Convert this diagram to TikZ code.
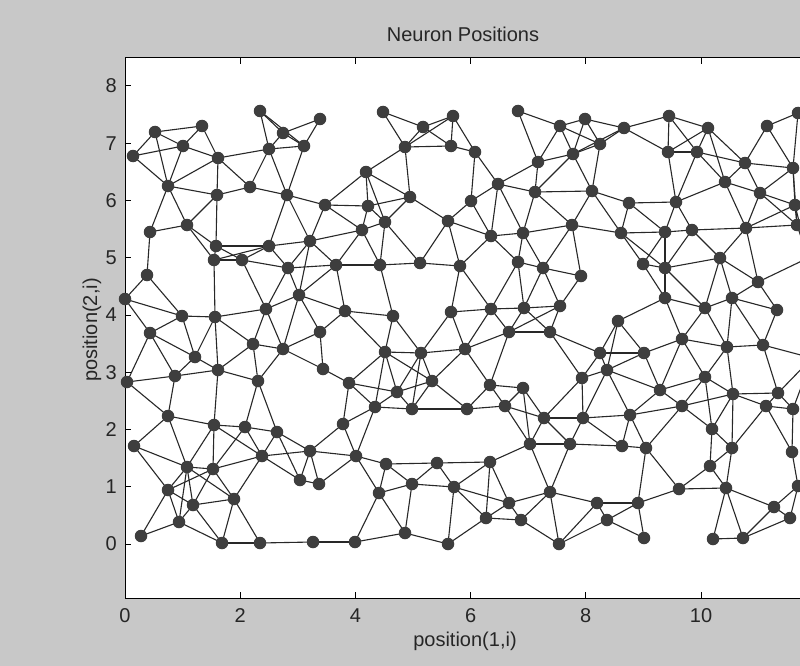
\documentclass[tikz,border=0pt]{standalone}
\usepackage{fontspec}
\setmainfont{Liberation Sans}
\definecolor{figbg}{RGB}{200,200,200}
\definecolor{dotc}{RGB}{62,62,62}
\definecolor{linec}{RGB}{40,40,40}
\pgfdeclarelayer{bg}
\pgfdeclarelayer{edges}
\pgfsetlayers{bg,edges,main}
\newcount\nn
\newcommand\neuron[2]{\global\advance\nn by 1
  \expandafter\xdef\csname nnx\the\nn\endcsname{#1}%
  \expandafter\xdef\csname nny\the\nn\endcsname{#2}%
  \node[neuron] (n\the\nn) at (#1,#2) {};}
\newcommand\linkpair[2]{\draw[link] (n#1.center) -- (n#2.center);}
\ExplSyntaxOn
\cs_new_protected:Npn \linkall #1
 {
  \int_step_inline:nnn {1} {\nn - 1}
   {
    \int_step_inline:nnn {##1 + 1} {\nn}
     {
      \int_compare:nNnT
       {
        (\use:c{nnx##1} - \use:c{nnx####1}) * (\use:c{nnx##1} - \use:c{nnx####1})
        + (\use:c{nny##1} - \use:c{nny####1}) * (\use:c{nny##1} - \use:c{nny####1})
       } < {#1}
       { \linkpair{##1}{####1} }
     }
   }
 }
\ExplSyntaxOff
\tikzset{
  neuron/.style={circle, fill=dotc, draw=none, inner sep=0pt, minimum size=12.5pt},
  link/.style={draw=linec, line width=1.1pt},
  lab/.style={font=\fontsize{20pt}{23pt}\selectfont, text=black!85, inner sep=0pt},
  axline/.style={draw=black, line width=1pt}
}
\begin{document}
\begin{tikzpicture}[x=1pt,y=-1pt]
\useasboundingbox (0,0) rectangle (800,666);
\begin{pgfonlayer}{bg}
\fill[figbg] (0,0) rectangle (800,666);
\fill[white] (125,58) rectangle (801,598);
\end{pgfonlayer}
\draw[axline] (801,58) -- (125,58) -- (125,598) -- (801,598);
% ticks
\foreach \k in {0,...,8} {
  \draw[axline] (125,{544-57.25*\k}) -- ++(6,0);
  \node[lab, anchor=east] (yt\k) at (117,{544-57.25*\k}) {\k};
}
\foreach \k in {0,2,...,10} {
  \draw[axline] ({125+57.6*\k},598) -- ++(0,-6);
  \draw[axline] ({125+57.6*\k},58) -- ++(0,6);
  \node[lab] (xt\k) at ({125+57.6*\k},616) {\k};
}
\node[lab] (title) at (463,34) {Neuron Positions};
\node[lab] (xlab) at (465,641) {position(1,i)};
\node[lab, rotate=90] (ylab) at (92,330) {position(2,i)};
\begin{scope}
\clip (0,0) rectangle (800,666);
% neurons
\neuron{133}{156}\neuron{155}{132}\neuron{202}{126}\neuron{183}{146}\neuron{218}{158}
\neuron{168}{186}\neuron{217}{195}\neuron{250}{187}\neuron{260}{111}\neuron{283}{133}
\neuron{269}{149}\neuron{287}{195}\neuron{150}{232}\neuron{187}{225}\neuron{216}{246}
\neuron{214}{260}\neuron{242}{260}\neuron{269}{246}\neuron{288}{268}\neuron{147}{275}
\neuron{125}{299}\neuron{182}{316}\neuron{215}{317}\neuron{266}{309}\neuron{150}{333}
\neuron{320}{119}\neuron{304}{146}\neuron{383}{112}\neuron{423}{127}\neuron{453}{116}
\neuron{405}{147}\neuron{451}{146}\neuron{366}{172}\neuron{325}{205}\neuron{368}{206}
\neuron{410}{197}\neuron{385}{222}\neuron{362}{230}\neuron{448}{221}\neuron{310}{241}
\neuron{336}{265}\neuron{380}{265}\neuron{420}{263}\neuron{460}{266}\neuron{299}{295}
\neuron{345}{311}\neuron{393}{316}\neuron{451}{312}\neuron{320}{332}\neuron{475}{152}
\neuron{518}{111}\neuron{560}{126}\neuron{585}{119}\neuron{624}{128}\neuron{600}{144}
\neuron{573}{154}\neuron{538}{162}\neuron{498}{184}\neuron{535}{192}\neuron{592}{191}
\neuron{629}{203}\neuron{471}{201}\neuron{491}{236}\neuron{523}{233}\neuron{572}{225}
\neuron{621}{233}\neuron{518}{262}\neuron{543}{268}\neuron{581}{276}\neuron{491}{309}
\neuron{524}{308}\neuron{560}{306}\neuron{618}{321}\neuron{509}{332}\neuron{550}{332}
\neuron{669}{116}\neuron{708}{128}\neuron{668}{152}\neuron{697}{152}\neuron{767}{126}
\neuron{798}{113}\neuron{745}{163}\neuron{793}{168}\neuron{725}{182}\neuron{760}{193}
\neuron{795}{205}\neuron{797}{225}\neuron{676}{202}\neuron{665}{232}\neuron{692}{230}
\neuron{746}{228}\neuron{643}{264}\neuron{665}{268}\neuron{720}{258}\neuron{758}{282}
\neuron{665}{298}\neuron{705}{308}\neuron{732}{298}\neuron{777}{310}
\neuron{195}{357}\neuron{253}{344}\neuron{283}{349}\neuron{175}{376}\neuron{218}{370}
\neuron{258}{381}\neuron{127}{382}\neuron{168}{416}\neuron{214}{425}\neuron{245}{427}
\neuron{277}{432}\neuron{134}{446}\neuron{262}{456}\neuron{187}{467}\neuron{213}{469}
\neuron{168}{490}\neuron{234}{499}\neuron{193}{505}\neuron{179}{522}\neuron{141}{536}
\neuron{222}{543}\neuron{260}{543}\neuron{323}{369}\neuron{349}{383}\neuron{385}{352}
\neuron{421}{353}\neuron{432}{381}\neuron{397}{392}\neuron{375}{407}\neuron{412}{409}
\neuron{343}{424}\neuron{310}{451}\neuron{356}{456}\neuron{386}{464}\neuron{437}{463}
\neuron{300}{480}\neuron{319}{484}\neuron{379}{493}\neuron{412}{484}\neuron{454}{487}
\neuron{405}{533}\neuron{448}{544}\neuron{313}{542}\neuron{355}{542}\neuron{465}{349}
\neuron{600}{353}\neuron{607}{370}\neuron{582}{378}\neuron{490}{385}\neuron{523}{388}
\neuron{505}{406}\neuron{467}{409}\neuron{544}{418}\neuron{583}{418}\neuron{630}{415}
\neuron{530}{444}\neuron{570}{444}\neuron{622}{446}\neuron{490}{462}\neuron{550}{492}
\neuron{509}{503}\neuron{597}{503}\neuron{486}{518}\neuron{521}{520}\neuron{607}{520}
\neuron{559}{544}\neuron{644}{353}\neuron{682}{339}\neuron{727}{347}\neuron{763}{345}
\neuron{705}{377}\neuron{660}{390}\neuron{733}{394}\neuron{778}{393}\neuron{793}{409}
\neuron{766}{406}\neuron{682}{406}\neuron{712}{429}\neuron{732}{448}\neuron{646}{448}
\neuron{792}{452}\neuron{710}{466}\neuron{679}{489}\neuron{726}{488}\neuron{798}{486}
\neuron{638}{503}\neuron{774}{507}\neuron{790}{518}\neuron{644}{538}\neuron{713}{539}
\neuron{743}{538}
% neurons just beyond the cropped right edge
\neuron{808}{258}\neuron{812}{358}\neuron{818}{88}
\begin{pgfonlayer}{edges}
\linkall{3300}
\linkpair{21}{22}
\end{pgfonlayer}
\end{scope}
\end{tikzpicture}
\end{document}
